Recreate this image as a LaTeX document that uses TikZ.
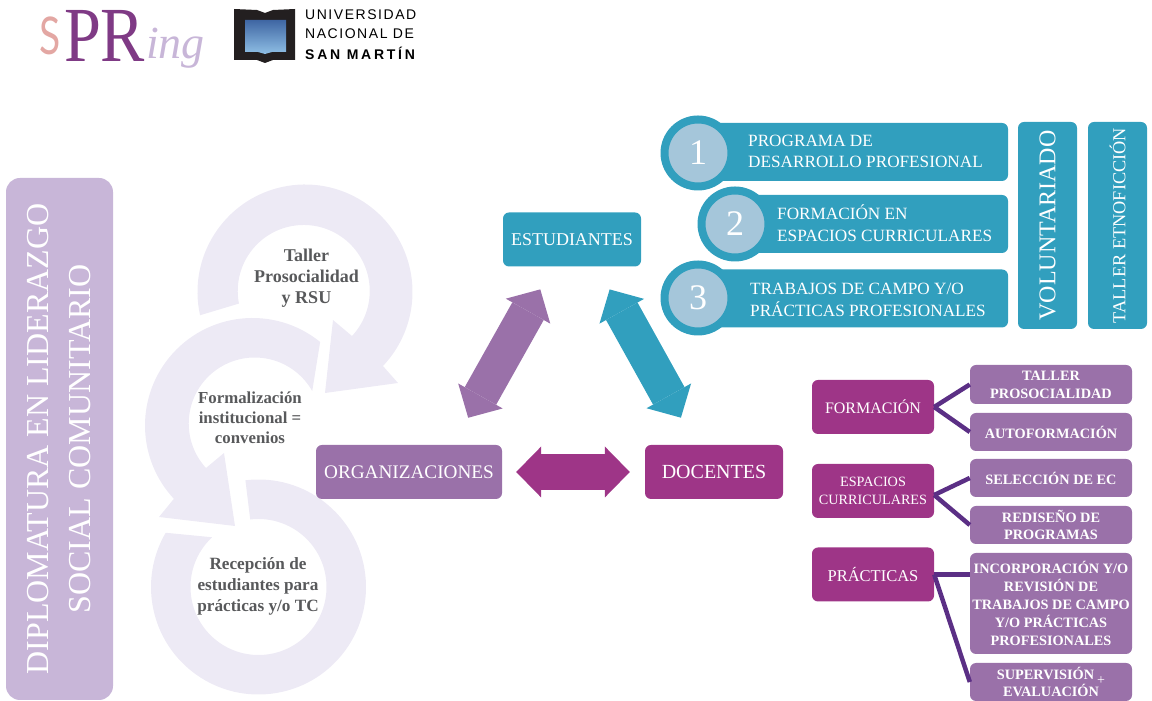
\documentclass[tikz,border=0pt]{standalone}
\usepackage{fontspec}
\setmainfont{Liberation Serif}
\newfontfamily\unsamfont[LetterSpace=11]{Liberation Sans}
\newfontfamily\unsamboldfont[LetterSpace=19.5]{Liberation Sans Bold}
\newfontfamily\logofont{Lato}
\usetikzlibrary{arrows.meta}
\definecolor{tealc}{HTML}{319FBE}
\definecolor{lilacc}{HTML}{9A71A9}
\definecolor{plumc}{HTML}{9E3587}
\definecolor{panelc}{HTML}{C8B6D8}
\definecolor{ringc}{HTML}{EDEAF5}
\definecolor{discc}{HTML}{A5C6DA}
\definecolor{linkc}{HTML}{5B2F85}
\definecolor{ringtext}{HTML}{58595B}
\definecolor{logopink}{HTML}{E3A7A3}
\definecolor{logoplum}{HTML}{7F3A85}
\definecolor{bookc}{HTML}{231F20}
\definecolor{booktop}{HTML}{3F66A3}
\definecolor{bookbottom}{HTML}{8FBFE5}
\tikzset{
  box/.style={rectangle,rounded corners=6pt,text=white,align=center,inner sep=0pt},
  size/.style={font=\fontsize{#1}{22}\selectfont},
  mainbox/.style={box,minimum width=138pt,minimum height=54pt},
  sidebox/.style={box,fill=plumc,minimum width=122pt,minimum height=54pt},
  subbox/.style={box,fill=lilacc,minimum width=162pt,font=\fontsize{14.3}{17.8}\selectfont\bfseries},
  bar/.style={box,fill=tealc,minimum height=58pt},
  barlabel/.style={anchor=west,align=left,text=white,inner sep=0pt,font=\fontsize{17.2}{21.5}\selectfont},
  numdisc/.style={circle,fill=discc,draw=tealc,line width=8pt,minimum size=67pt,inner sep=0pt,text=white,font=\fontsize{36}{36}\selectfont},
  vertbox/.style={box,fill=tealc,minimum width=207pt,minimum height=59pt,rotate=90},
  ringlabel/.style={align=center,text=ringtext,inner sep=0pt},
  block/.style={line width=36pt,{Triangle[length=25pt,width=51pt,line width=0pt]}-{Triangle[length=25pt,width=51pt,line width=0pt]}},
  link/.style={draw=linkc,line width=4.5pt},
  logotext/.style={anchor=base west,inner sep=0pt},
  unsam/.style={anchor=west,inner sep=0pt},
}
\begin{document}
\begin{tikzpicture}[x=1pt,y=1pt]
  \useasboundingbox (0,0) rectangle (1152,701);

  \node[logotext,text=logopink,font=\fontsize{52}{52}\logofont] (logos) at (39,646) {\scalebox{.75}[1]{S}};
  \node[logotext,text=logoplum,font=\fontsize{78}{78}\selectfont] (logop) at (64,639) {\scalebox{.85}[1]{P}};
  \node[logotext,text=logoplum,font=\fontsize{78}{78}\selectfont] (logor) at (100,639) {\scalebox{.85}[1]{R}};
  \node[logotext,text=panelc,font=\fontsize{46}{46}\selectfont\itshape] (logoing) at (146,642) {ing};

  \fill[bookc] (234,692) -- (257,691) -- (265,688) -- (273,691) -- (295,692)
    -- (295,641) -- (273,641) -- (265,638) -- (257,641) -- (234,641) -- cycle;
  \shade[top color=booktop,bottom color=bookbottom]
    (245,681) -- (286,681) -- (286,649) -- (272,649) -- (265,647) -- (258,649) -- (245,649) -- cycle;
  \node[unsam,font=\fontsize{14}{14}\unsamfont] (unsama) at (305,686) {UNIVERSIDAD};
  \node[unsam,font=\fontsize{14}{14}\unsamfont] (unsamb) at (305,667) {NACIONAL DE};
  \node[unsam,font=\fontsize{14}{14}\unsamboldfont] (unsamc) at (305,648) {SAN MARTÍN};

  \node[box,fill=panelc,rounded corners=14pt,minimum width=522pt,minimum height=107pt,rotate=90,
    font=\fontsize{32}{42}\selectfont] (diplomatura) at (59.5,262) {DIPLOMATURA EN LIDERAZGO\\SOCIAL COMUNITARIO};

  \fill[ringc] ([shift={(305,409)}]192.5:107.5) arc[start angle=192.5,end angle=-43.5,radius=107.5]
    -- (398,318) -- (325,308) -- (333,381) -- (352,365)
    arc[start angle=-43,end angle=191,radius=66] -- cycle;
  \fill[ringc] ([shift={(252.5,275.5)}]51:107.5) arc[start angle=51,end angle=223,radius=107.5]
    -- (159,184) -- (235,175) -- (224,248) -- (206,233)
    arc[start angle=222.4,end angle=29.4,radius=66] -- cycle;
  \fill[ringc] ([shift={(258.5,114)}]97:107.5) arc[start angle=97,end angle=-210.3,radius=107.5]
    -- ([shift={(258.5,114)}]133:68) arc[start angle=-227,end angle=97,radius=68] -- cycle;

  \node[ringlabel,font=\fontsize{18}{21}\selectfont\bfseries] (taller) at (306.5,422.5) {Taller\\Prosocialidad\\y RSU};
  \node[ringlabel,font=\fontsize{16.8}{20}\selectfont\bfseries] (formalizacion) at (250,283) {Formalización\\institucional =\\convenios};
  \node[ringlabel,font=\fontsize{17.2}{21}\selectfont\bfseries] (recepcion) at (258,115) {Recepción de\\estudiantes para\\prácticas y/o TC};

  \node[mainbox,fill=tealc,size=18] (estudiantes) at (572,461.5) {ESTUDIANTES};
  \node[mainbox,fill=lilacc,minimum width=186pt,size=19.2] (organizaciones) at (409,229) {ORGANIZACIONES};
  \node[mainbox,fill=plumc,size=20] (docentes) at (714,229) {DOCENTES};

  \draw[block,draw=lilacc,fill=lilacc,shorten <=26pt,shorten >=31pt] ([xshift=-19pt]estudiantes.south) -- ([xshift=44pt]organizaciones.north);
  \draw[block,draw=tealc,fill=tealc,shorten <=26pt,shorten >=31pt] ([xshift=25pt]estudiantes.south) -- ([xshift=-18pt]docentes.north);
  \draw[block,draw=plumc,fill=plumc,shorten <=14pt,shorten >=15pt] (organizaciones.east) -- (docentes.west);

  \node[bar,minimum width=310pt] (bara) at (853,549) {};
  \node[bar,minimum width=273pt] (barb) at (871.5,477) {};
  \node[bar,minimum width=310pt] (barc) at (853,402.5) {};
  \node[numdisc] (disca) at (698,548) {1};
  \node[numdisc] (discb) at (735,477) {2};
  \node[numdisc] (discc) at (698,403) {3};
  \node[barlabel] (labela) at (748,549.5) {PROGRAMA DE\\DESARROLLO PROFESIONAL};
  \node[barlabel] (labelb) at (777,478) {FORMACIÓN EN\\ESPACIOS CURRICULARES};
  \node[barlabel] (labelc) at (750,401) {TRABAJOS DE CAMPO Y/O\\PRÁCTICAS PROFESIONALES};

  \node[vertbox,size=24] (voluntariado) at (1047.5,475.5) {VOLUNTARIADO};
  \node[vertbox,size=18.3] (etnoficcion) at (1117.5,475.5) {TALLER ETNOFICCIÓN};

  \node[sidebox,size=16] (formacion) at (873,294) {FORMACIÓN};
  \node[sidebox,font=\fontsize{14.2}{18}\selectfont] (espacios) at (873,210) {ESPACIOS\\CURRICULARES};
  \node[sidebox,size=16.5] (practicas) at (873,126.5) {PRÁCTICAS};

  \node[subbox,minimum height=39pt] (prosocialidad) at (1051,316.5) {TALLER\\PROSOCIALIDAD};
  \node[subbox,minimum height=38pt] (autoformacion) at (1051,269) {AUTOFORMACIÓN};
  \node[subbox,minimum height=38pt] (seleccion) at (1051,223) {SELECCIÓN DE EC};
  \node[subbox,minimum height=38pt] (rediseno) at (1051,176) {REDISEÑO DE\\PROGRAMAS};
  \node[subbox,minimum height=101pt] (incorporacion) at (1051,97.5) {INCORPORACIÓN Y/O\\REVISIÓN DE\\TRABAJOS DE CAMPO\\Y/O PRÁCTICAS\\PROFESIONALES};
  \node[subbox,minimum height=38pt] (supervision) at (1051,19) {SUPERVISIÓN\kern11pt\relax\\EVALUACIÓN};
  \node[text=white,inner sep=0pt,font=\fontsize{14}{14}\selectfont] (plus) at (1101,20) {+};

  \draw[link] (formacion.east) -- (prosocialidad.west);
  \draw[link] (formacion.east) -- (autoformacion.west);
  \draw[link] ([yshift=-4pt]espacios.east) -- (seleccion.west);
  \draw[link] ([yshift=-4pt]espacios.east) -- (rediseno.west);
  \draw[link] (practicas.east) -- (practicas.east -| incorporacion.west);
  \draw[link] (practicas.east) -- (supervision.west);
\end{tikzpicture}
\end{document}
